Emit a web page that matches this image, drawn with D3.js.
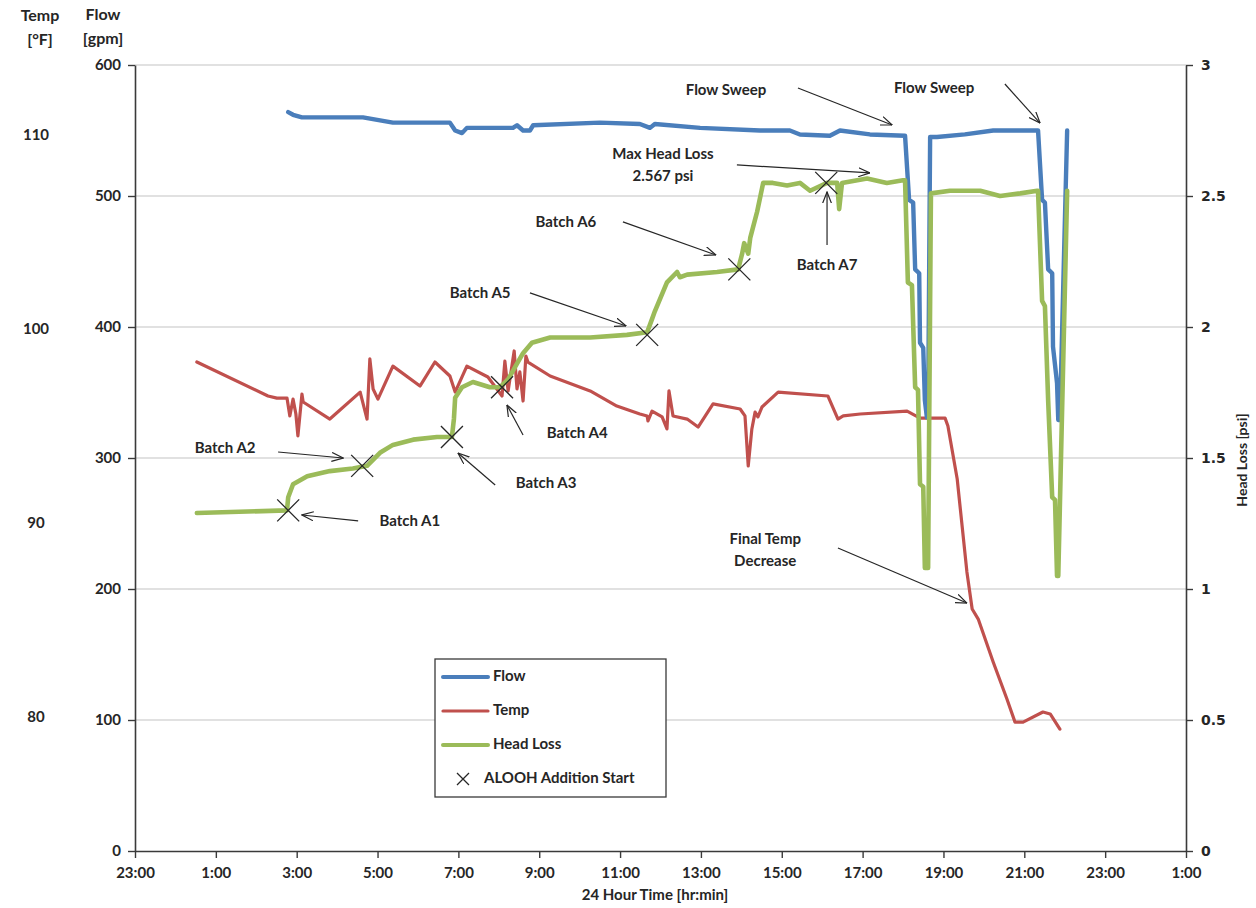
<!DOCTYPE html>
<html>
<head>
<meta charset="utf-8">
<script src="https://cdn.jsdelivr.net/npm/d3@7"></script>
<style>
  body { margin: 0; background: #fff; }
  text { font-family: Lato, "Open Sans", sans-serif; font-weight: bold; fill: #262626; }
</style>
</head>
<body>
<div id="wrapper"></div>
<script>
// times are hours after midnight of the test day (-1 = 23:00 the evening before)
const timeTicks = [-1, 1, 3, 5, 7, 9, 11, 13, 15, 17, 19, 21, 23, 25]
const flowTicks = [0, 100, 200, 300, 400, 500, 600]
const psiTicks = [0, 0.5, 1, 1.5, 2, 2.5, 3]
const tempTicks = [80, 90, 100, 110]

const flowHours = [2.79, 2.91, 3.13, 4.64, 5.38, 6.79, 6.92, 7.09, 7.21, 8.35, 8.45, 8.60, 8.77, 8.85, 10.50, 11.49, 11.74, 11.86, 12.98, 14.46,
  15.20, 15.45, 16.19, 16.44, 17.18, 18.05, 18.15, 18.25, 18.30, 18.40, 18.42, 18.50, 18.54, 18.59, 18.62, 18.67, 18.84, 19.53, 20.23, 21.32,
  21.34, 21.44, 21.51, 21.59, 21.69, 21.71, 21.81, 21.84, 21.88, 22.06]
const flowGpm = [564, 562, 560, 560, 556, 556, 550, 548, 552, 552, 554, 550, 550, 554, 556, 555, 552, 555, 552, 550,
  550, 547, 546, 550, 547, 546, 497, 495, 444, 441, 388, 384, 344, 331, 331, 545, 545, 547, 550, 550,
  550, 497, 495, 444, 441, 385, 357, 329, 329, 550]

const tempHours = [0.53, 2.29, 2.51, 2.76, 2.83, 2.91, 2.98, 3.03, 3.13, 3.16, 3.82, 4.57, 4.74, 4.81, 4.89, 5.01, 5.38, 6.05, 6.42, 6.79,
  6.92, 7.21, 7.73, 8.08, 8.15, 8.23, 8.38, 8.45, 8.52, 8.60, 8.67, 8.72, 9.27, 10.26, 10.92, 11.49, 11.67, 11.69, 11.79, 12.04,
  12.16, 12.21, 12.31, 12.66, 12.93, 13.30, 13.97, 14.09, 14.17, 14.26, 14.34, 14.41, 14.51, 14.91, 16.14, 16.39, 16.52, 16.94, 18.10, 18.42,
  19.04, 19.11, 19.34, 19.58, 19.71, 19.86, 20.23, 20.57, 20.77, 20.97, 21.46, 21.64, 21.88]
const tempF = [98.35, 96.6, 96.49, 96.49, 95.57, 96.44, 95.67, 94.54, 96.7, 96.29, 95.41, 96.8, 95.41, 98.51, 96.96, 96.44, 98.14, 97.11, 98.35, 97.63,
  96.8, 98.14, 97.58, 96.6, 98.4, 96.86, 98.92, 96.96, 97.84, 96.34, 98.66, 98.35, 97.63, 96.86, 96.08, 95.67, 95.57, 95.31, 95.82, 95.52,
  94.9, 96.86, 95.57, 95.41, 95.0, 96.19, 95.93, 95.57, 92.99, 94.9, 95.77, 95.52, 96.03, 96.8, 96.6, 95.41, 95.57, 95.67, 95.82, 95.46,
  95.46, 95.05, 92.32, 87.53, 85.62, 85.1, 82.89, 80.98, 79.79, 79.79, 80.31, 80.21, 79.43]

const headHours = [0.53, 2.76, 2.79, 2.91, 3.26, 3.82, 4.39, 4.74, 5.06, 5.38, 5.88, 6.47, 6.84, 6.89, 6.92, 7.09, 7.36, 7.78, 8.03, 8.23,
  8.45, 8.60, 8.82, 9.27, 10.26, 11.17, 11.67, 11.79, 11.86, 12.16, 12.41, 12.48, 12.66, 13.40, 13.92, 14.02, 14.07, 14.17, 14.22, 14.39,
  14.54, 14.78, 15.13, 15.45, 15.70, 16.12, 16.37, 16.42, 16.49, 17.11, 17.60, 18.00, 18.05, 18.12, 18.22, 18.30, 18.37, 18.42, 18.50, 18.54,
  18.62, 18.69, 19.16, 19.91, 20.40, 20.90, 21.32, 21.34, 21.44, 21.51, 21.59, 21.69, 21.76, 21.81, 21.84, 22.06]
const headPsi = [1.29, 1.30, 1.35, 1.40, 1.43, 1.45, 1.46, 1.47, 1.52, 1.55, 1.57, 1.58, 1.58, 1.65, 1.73, 1.77, 1.79, 1.77, 1.77, 1.80,
  1.86, 1.90, 1.94, 1.96, 1.96, 1.97, 1.98, 2.03, 2.06, 2.17, 2.21, 2.19, 2.20, 2.21, 2.22, 2.28, 2.32, 2.28, 2.34, 2.44,
  2.55, 2.55, 2.54, 2.55, 2.52, 2.55, 2.55, 2.45, 2.55, 2.567, 2.55, 2.56, 2.56, 2.17, 2.16, 1.77, 1.76, 1.40, 1.39, 1.08,
  1.08, 2.51, 2.52, 2.52, 2.50, 2.51, 2.52, 2.52, 2.10, 2.08, 1.72, 1.35, 1.34, 1.05, 1.05, 2.52]

const batchNames = ["A1", "A2", "A3", "A4", "A5", "A6", "A7"]
const batchHours = [2.79, 4.62, 6.84, 8.08, 11.67, 13.95, 16.10]
const batchPsi = [1.30, 1.47, 1.58, 1.77, 1.97, 2.22, 2.55]

// callouts, placed in chart units: [hour, gpm]
const callouts = [
  {lines: ["Batch A1"], at: [5.80, 251], from: [4.52, 252], to: [3.13, 256.5]},
  {lines: ["Batch A2"], at: [1.23, 307], from: [2.54, 304.6], to: [4.15, 300]},
  {lines: ["Batch A3"], at: [9.17, 280], from: [7.91, 279.4], to: [6.99, 303.8]},
  {lines: ["Batch A4"], at: [9.94, 318.3], from: [8.60, 317.6], to: [8.20, 340.5]},
  {lines: ["Batch A5"], at: [7.54, 425.2], from: [8.77, 426], to: [11.15, 400.8]},
  {lines: ["Batch A6"], at: [9.66, 479.4], from: [11.07, 480.2], to: [13.37, 455]},
  {lines: ["Batch A7"], at: [16.12, 446.6], from: [16.12, 462.6], to: [16.12, 503.1]},
  {lines: ["Max Head Loss", "2.567 psi"], at: [12.06, 522.5], from: [13.89, 523.7], to: [17.18, 517.6]},
  {lines: ["Flow Sweep"], at: [13.62, 580.2], from: [15.40, 582.4], to: [17.73, 554.2]},
  {lines: ["Flow Sweep"], at: [18.77, 581.7], from: [20.52, 585.5], to: [21.39, 555.7]},
  {lines: ["Final Temp", "Decrease"], at: [14.59, 229], from: [16.39, 231.3], to: [19.58, 189.3]}
]

const colors = {flow: "#4a7ebb", temp: "#c0504d", head: "#9bbb59", ink: "#262626"}

drawChart()

function drawChart() {
  const dimensions = {
    width: 1256,
    height: 908,
    margin: {top: 65, right: 70, bottom: 57, left: 135},
  }
  dimensions.boundedWidth = dimensions.width - dimensions.margin.left - dimensions.margin.right
  dimensions.boundedHeight = dimensions.height - dimensions.margin.top - dimensions.margin.bottom

  const svg = d3.select("#wrapper")
    .append("svg")
    .attr("width", dimensions.width)
    .attr("height", dimensions.height)

  svg.append("defs").append("marker")
    .attr("id", "arrow")
    .attr("viewBox", "0 0 12 10")
    .attr("refX", 11.5)
    .attr("refY", 5)
    .attr("markerWidth", 12)
    .attr("markerHeight", 10)
    .attr("markerUnits", "userSpaceOnUse")
    .attr("orient", "auto")
    .append("path")
    .attr("d", "M0,0.5 L11.5,5 L0,9.5")
    .attr("fill", "none")
    .attr("stroke", colors.ink)
    .attr("stroke-width", 1.2)

  const bounds = svg.append("g")
    .attr("transform", `translate(${dimensions.margin.left},${dimensions.margin.top})`)

  const xScale = d3.scaleLinear()
    .domain([-1, 25])
    .range([0, dimensions.boundedWidth])
  const flowScale = d3.scaleLinear()
    .domain([0, 600])
    .range([dimensions.boundedHeight, 0])
  const psiScale = d3.scaleLinear()
    .domain([0, 3])
    .range([dimensions.boundedHeight, 0])
  // temperature labels sit on their own scale against the flow axis
  const tempToFlow = d3.scaleLinear().domain([80, 110]).range([101.5, 545.8])
  const tempY = t => flowScale(tempToFlow(t))

  // gridlines
  bounds.append("g")
    .selectAll("line")
    .data(flowTicks.filter(d => d > 0))
    .join("line")
    .attr("x1", 0)
    .attr("x2", dimensions.boundedWidth)
    .attr("y1", d => flowScale(d))
    .attr("y2", d => flowScale(d))
    .attr("stroke", "#c4c4c4")
    .attr("stroke-width", 1.2)

  // series
  const flowLine = d3.line().x(i => xScale(flowHours[i])).y(i => flowScale(flowGpm[i]))
  const tempLine = d3.line().x(i => xScale(tempHours[i])).y(i => tempY(tempF[i]))
  const headLine = d3.line().x(i => xScale(headHours[i])).y(i => psiScale(headPsi[i]))

  bounds.append("path")
    .attr("d", tempLine(d3.range(tempHours.length)))
    .attr("fill", "none").attr("stroke", colors.temp).attr("stroke-width", 3.2)
    .attr("stroke-linejoin", "round").attr("stroke-linecap", "round")
  bounds.append("path")
    .attr("d", flowLine(d3.range(flowHours.length)))
    .attr("fill", "none").attr("stroke", colors.flow).attr("stroke-width", 4.4)
    .attr("stroke-linejoin", "round").attr("stroke-linecap", "round")
  bounds.append("path")
    .attr("d", headLine(d3.range(headHours.length)))
    .attr("fill", "none").attr("stroke", colors.head).attr("stroke-width", 4.6)
    .attr("stroke-linejoin", "round").attr("stroke-linecap", "round")

  // batch addition markers
  const cross = s => `M${-s},${-s}L${s},${s}M${-s},${s}L${s},${-s}`
  bounds.append("g")
    .selectAll("path")
    .data(batchNames)
    .join("path")
    .attr("transform", (d, i) => `translate(${xScale(batchHours[i])},${psiScale(batchPsi[i])})`)
    .attr("d", cross(11))
    .attr("stroke", colors.ink)
    .attr("stroke-width", 1.3)
    .attr("fill", "none")

  // callouts
  const notes = bounds.append("g")
  callouts.forEach(c => {
    notes.append("line")
      .attr("x1", xScale(c.from[0])).attr("y1", flowScale(c.from[1]))
      .attr("x2", xScale(c.to[0])).attr("y2", flowScale(c.to[1]))
      .attr("stroke", colors.ink).attr("stroke-width", 1.2)
      .attr("marker-end", "url(#arrow)")
    const lineGap = 22
    c.lines.forEach((txt, k) => {
      notes.append("text")
        .attr("x", xScale(c.at[0]))
        .attr("y", flowScale(c.at[1]) + (k - (c.lines.length - 1) / 2) * lineGap)
        .attr("text-anchor", "middle")
        .attr("dominant-baseline", "middle")
        .style("font-size", "15px")
        .text(txt)
    })
  })

  drawAxes(bounds, dimensions, xScale, flowScale, psiScale)
  drawTitles(svg, bounds, dimensions, tempY)
  drawLegend(svg)
}

function drawAxes(bounds, dimensions, xScale, flowScale, psiScale) {
  const fmtHour = h => `${((h % 24) + 24) % 24}:00`

  const xAxis = bounds.append("g")
    .attr("transform", `translate(0,${dimensions.boundedHeight})`)
    .call(d3.axisBottom(xScale).tickValues(timeTicks).tickFormat(fmtHour).tickSize(7).tickSizeOuter(0).tickPadding(9))
  const yLeft = bounds.append("g")
    .call(d3.axisLeft(flowScale).tickValues(flowTicks).tickSize(7).tickSizeOuter(0).tickPadding(7))
  const yRight = bounds.append("g")
    .attr("transform", `translate(${dimensions.boundedWidth},0)`)
    .call(d3.axisRight(psiScale).tickValues(psiTicks).tickFormat(d => String(d)).tickSize(7).tickSizeOuter(0).tickPadding(8))

  ;[xAxis, yLeft, yRight].forEach(ax => {
    ax.select(".domain").attr("stroke", "#3a3a3a").attr("stroke-width", 1.6)
    ax.selectAll(".tick line").attr("stroke", "#3a3a3a").attr("stroke-width", 1.4)
    ax.selectAll(".tick text")
      .attr("fill", "#262626")
      .style("font-family", "Lato, 'Open Sans', sans-serif")
      .style("font-weight", "bold")
      .style("font-size", "15px")
  })
  yRight.selectAll(".tick text").style("font-size", "14px").style("font-family", "Verdana, 'DejaVu Sans', sans-serif")
}

function drawTitles(svg, bounds, dimensions, tempY) {
  const label = (x, y, txt, size) => svg.append("text")
    .attr("x", x).attr("y", y)
    .attr("text-anchor", "middle")
    .attr("dominant-baseline", "middle")
    .style("font-size", size)
    .text(txt)

  label(40, 17, "Temp", "16px")
  label(40, 41, "[°F]", "16px")
  label(103, 16, "Flow", "16px")
  label(103, 40, "[gpm]", "16px")

  // temperature values on the outer left
  svg.append("g")
    .selectAll("text")
    .data(tempTicks)
    .join("text")
    .attr("x", 36)
    .attr("y", d => dimensions.margin.top + tempY(d))
    .attr("text-anchor", "middle")
    .attr("dominant-baseline", "middle")
    .style("font-size", "15px")
    .text(d => d)

  label(655, 896, "24 Hour Time [hr:min]", "15px")

  svg.append("text")
    .attr("transform", "translate(1243,460) rotate(-90)")
    .attr("text-anchor", "middle")
    .attr("dominant-baseline", "middle")
    .style("font-size", "14px")
    .text("Head Loss [psi]")
}

function drawLegend(svg) {
  const items = [
    {name: "Flow", color: colors.flow, type: "line"},
    {name: "Temp", color: colors.temp, type: "line"},
    {name: "Head Loss", color: colors.head, type: "line"},
    {name: "ALOOH Addition Start", color: colors.ink, type: "cross"},
  ]
  const legend = svg.append("g").attr("transform", "translate(435,659)")
  legend.append("rect")
    .attr("width", 231).attr("height", 138)
    .attr("fill", "#fff").attr("stroke", "#3a3a3a").attr("stroke-width", 1.3)
  const row = legend.selectAll("g")
    .data(items)
    .join("g")
    .attr("transform", (d, i) => `translate(0,${18 + i * 34})`)
  row.filter(d => d.type === "line")
    .append("line")
    .attr("x1", 8).attr("x2", 53)
    .attr("stroke", d => d.color)
    .attr("stroke-width", d => d.name === "Temp" ? 3.2 : 4)
    .attr("stroke-linecap", "round")
  row.filter(d => d.type === "cross")
    .append("path")
    .attr("transform", "translate(28,0)")
    .attr("d", "M-6,-6L6,6M-6,6L6,-6")
    .attr("stroke", d => d.color)
    .attr("stroke-width", 1.3)
  row.append("text")
    .attr("x", d => d.type === "cross" ? 49 : 58)
    .attr("dominant-baseline", "middle")
    .style("font-size", "15px")
    .text(d => d.name)
}
</script>
</body>
</html>
